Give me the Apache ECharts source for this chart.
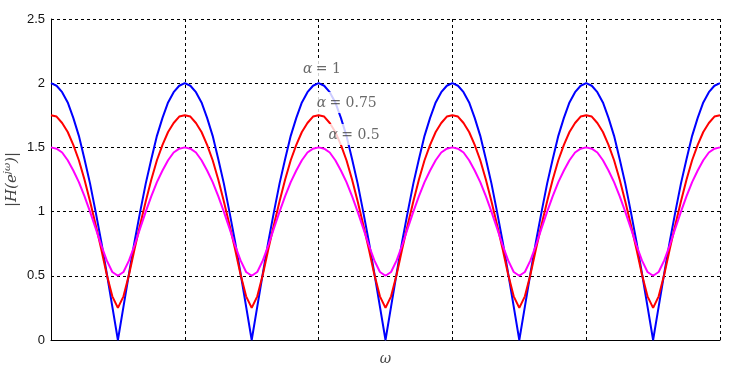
<!DOCTYPE html>
<html>
<head>
<meta charset="utf-8">
<script src="https://cdn.jsdelivr.net/npm/echarts@6/dist/echarts.min.js"></script>
<style>
html, body { margin: 0; padding: 0; background: #fff; }
#main { width: 748px; height: 367px; }
</style>
</head>
<body>
<div id="main"></div>
<script>
// |H(e^jw)|, 24 samples per period, 5 periods
var alpha1 = [
  2.00,1.98,1.93,1.85,1.73,1.59,1.41,1.22,1.00,0.77,0.52,0.26,0.00,0.26,0.52,0.77,1.00,1.22,1.41,1.59,1.73,1.85,1.93,1.98,
  2.00,1.98,1.93,1.85,1.73,1.59,1.41,1.22,1.00,0.77,0.52,0.26,0.00,0.26,0.52,0.77,1.00,1.22,1.41,1.59,1.73,1.85,1.93,1.98,
  2.00,1.98,1.93,1.85,1.73,1.59,1.41,1.22,1.00,0.77,0.52,0.26,0.00,0.26,0.52,0.77,1.00,1.22,1.41,1.59,1.73,1.85,1.93,1.98,
  2.00,1.98,1.93,1.85,1.73,1.59,1.41,1.22,1.00,0.77,0.52,0.26,0.00,0.26,0.52,0.77,1.00,1.22,1.41,1.59,1.73,1.85,1.93,1.98,
  2.00,1.98,1.93,1.85,1.73,1.59,1.41,1.22,1.00,0.77,0.52,0.26,0.00,0.26,0.52,0.77,1.00,1.22,1.41,1.59,1.73,1.85,1.93,1.98,
  2.00
];
var alpha075 = [
  1.75,1.74,1.69,1.62,1.52,1.40,1.25,1.08,0.90,0.71,0.51,0.34,0.25,0.34,0.51,0.71,0.90,1.08,1.25,1.40,1.52,1.62,1.69,1.74,
  1.75,1.74,1.69,1.62,1.52,1.40,1.25,1.08,0.90,0.71,0.51,0.34,0.25,0.34,0.51,0.71,0.90,1.08,1.25,1.40,1.52,1.62,1.69,1.74,
  1.75,1.74,1.69,1.62,1.52,1.40,1.25,1.08,0.90,0.71,0.51,0.34,0.25,0.34,0.51,0.71,0.90,1.08,1.25,1.40,1.52,1.62,1.69,1.74,
  1.75,1.74,1.69,1.62,1.52,1.40,1.25,1.08,0.90,0.71,0.51,0.34,0.25,0.34,0.51,0.71,0.90,1.08,1.25,1.40,1.52,1.62,1.69,1.74,
  1.75,1.74,1.69,1.62,1.52,1.40,1.25,1.08,0.90,0.71,0.51,0.34,0.25,0.34,0.51,0.71,0.90,1.08,1.25,1.40,1.52,1.62,1.69,1.74,
  1.75
];
var alpha05 = [
  1.50,1.49,1.46,1.40,1.32,1.23,1.12,1.00,0.87,0.74,0.62,0.53,0.50,0.53,0.62,0.74,0.87,1.00,1.12,1.23,1.32,1.40,1.46,1.49,
  1.50,1.49,1.46,1.40,1.32,1.23,1.12,1.00,0.87,0.74,0.62,0.53,0.50,0.53,0.62,0.74,0.87,1.00,1.12,1.23,1.32,1.40,1.46,1.49,
  1.50,1.49,1.46,1.40,1.32,1.23,1.12,1.00,0.87,0.74,0.62,0.53,0.50,0.53,0.62,0.74,0.87,1.00,1.12,1.23,1.32,1.40,1.46,1.49,
  1.50,1.49,1.46,1.40,1.32,1.23,1.12,1.00,0.87,0.74,0.62,0.53,0.50,0.53,0.62,0.74,0.87,1.00,1.12,1.23,1.32,1.40,1.46,1.49,
  1.50,1.49,1.46,1.40,1.32,1.23,1.12,1.00,0.87,0.74,0.62,0.53,0.50,0.53,0.62,0.74,0.87,1.00,1.12,1.23,1.32,1.40,1.46,1.49,
  1.50
];
// sample positions (one grid cell = one period)
var omega = alpha1.map(function (v, i) { return i / 24; });

// curve annotations: [w, |H|, alpha text]
var notes = [
  [2.025, 2.11, '1'],
  [2.21, 1.85, '0.75'],
  [2.265, 1.60, '0.5']
];

function pairs(ys) {
  return ys.map(function (y, i) { return [omega[i], y]; });
}

var chart = echarts.init(document.getElementById('main'));
var option = {
  animation: false,
  backgroundColor: '#fff',
  grid: { left: 51, right: 28, top: 19, bottom: 27, outerBoundsMode: 'none', containLabel: false },
  xAxis: {
    type: 'value',
    min: 0, max: 5, interval: 1,
    name: 'ω',
    nameLocation: 'middle',
    nameGap: 12,
    nameTextStyle: { fontFamily: 'DejaVu Serif', fontStyle: 'italic', fontSize: 14, color: '#444' },
    axisLine: { show: true, lineStyle: { color: '#000', width: 1 } },
    axisTick: { show: false },
    axisLabel: { show: false },
    splitLine: { show: true, lineStyle: { color: '#000', type: [3, 3], width: 1 } }
  },
  yAxis: {
    type: 'value',
    min: 0, max: 2.5, interval: 0.5,
    name: '{t||H(e}{s|jω}{t|)|}',
    nameLocation: 'middle',
    nameRotate: 90,
    nameGap: 29,
    nameMoveOverlap: false,
    nameTextStyle: {
      color: '#444',
      rich: {
        t: { fontFamily: 'DejaVu Serif', fontStyle: 'italic', fontSize: 15, color: '#444' },
        s: { fontFamily: 'DejaVu Serif', fontStyle: 'italic', fontSize: 10, color: '#444', padding: [0, 0, 10, 0] }
      }
    },
    axisLine: { show: true, lineStyle: { color: '#000', width: 1 } },
    axisTick: { show: false },
    axisLabel: { margin: 6, color: '#111', fontFamily: 'Liberation Sans', fontSize: 13 },
    splitLine: { show: true, lineStyle: { color: '#000', type: [3, 3], width: 1 } }
  },
  series: [
    { name: 'a1', type: 'line', data: pairs(alpha1), showSymbol: false, z: 3,
      lineStyle: { color: '#0000ff', width: 2 } },
    { name: 'a075', type: 'line', data: pairs(alpha075), showSymbol: false, z: 4,
      lineStyle: { color: '#ff0000', width: 2 } },
    { name: 'a05', type: 'line', data: pairs(alpha05), showSymbol: false, z: 5,
      lineStyle: { color: '#ff00ff', width: 2 } },
    {
      name: 'notes', type: 'scatter', z: 10, symbolSize: 0,
      data: notes.map(function (n) { return { value: [n[0], n[1]], txt: n[2] }; }),
      label: {
        show: true,
        position: 'inside',
        backgroundColor: '#fff',
        padding: [4, 3, 3, 3],
        formatter: function (p) { return '{a|α} {b|= ' + p.data.txt + '}'; },
        rich: {
          a: { fontFamily: 'DejaVu Serif', fontStyle: 'italic', fontSize: 14, color: '#444' },
          b: { fontFamily: 'DejaVu Serif', fontSize: 14, color: '#444' }
        }
      }
    }
  ]
};
chart.setOption(option);
</script>
</body>
</html>
